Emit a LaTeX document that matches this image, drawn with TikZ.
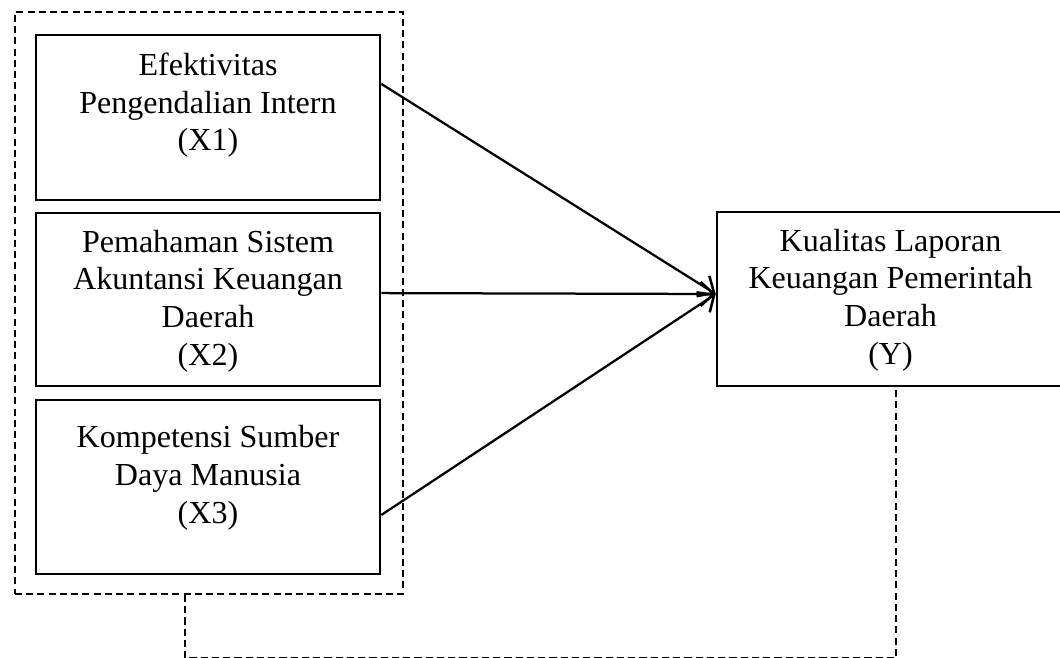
\documentclass[tikz,border=0pt]{standalone}
\usepackage{fontspec}
\setmainfont{Liberation Serif}
\usepackage{tikz}
\usetikzlibrary{arrows.meta, positioning}

\begin{document}
\begin{tikzpicture}[x=0.025cm, y=-0.025cm,
    every node/.style={font=\fontsize{22.8pt}{26.8pt}\selectfont},
    kotak/.style={draw, line width=1.8pt, inner sep=0pt},
    isi/.style={align=center, inner sep=0pt},
    putus/.style={line width=1.3pt, dash pattern=on 5pt off 3pt},
    panah/.style={line width=1.6pt, -{Straight Barb[length=3.3mm, width=6mm, line width=1.8pt]}}]
    \useasboundingbox (0,0) rectangle (1060,658);

    % --- Kotak putus-putus (variabel bebas) ---
    \node[draw, putus, minimum width=9.7cm, minimum height=14.55cm] (grup) at (209,303) {};

    % --- Variabel X1 ---
    \node[kotak, minimum width=8.6cm, minimum height=4.125cm] (x1) at (208,117.5) {};
    \node[isi, below=0.475cm of x1.north] (tx1) {Efektivitas\\Pengendalian Intern\\(X1)};

    % --- Variabel X2 ---
    \node[kotak, minimum width=8.6cm, minimum height=4.325cm] (x2) at (208,299.5) {};
    \node[isi, below=0.45cm of x2.north] (tx2) {Pemahaman Sistem\\Akuntansi Keuangan\\Daerah\\(X2)};

    % --- Variabel X3 ---
    \node[kotak, minimum width=8.6cm, minimum height=4.35cm] (x3) at (208,487) {};
    \node[isi, below=0.66cm of x3.north] (tx3) {Kompetensi Sumber\\Daya Manusia\\(X3)};

    % --- Variabel Y (sisi kanan terpotong) ---
    \node[kotak, minimum width=8.675cm, minimum height=4.35cm] (y) at (890.5,299) {};
    \node[isi, below=0.45cm of y.north] (ty) {Kualitas Laporan\\Keuangan Pemerintah\\Daerah\\(Y)};

    % Panah pengaruh ke Y
    \draw[panah] ([yshift=0.84cm]x1.east) -- ([yshift=0.125cm]y.west);
    \draw[panah] ([yshift=0.16cm]x2.east) -- ([yshift=0.125cm]y.west);
    \draw[panah] ([yshift=-0.7cm]x3.east) -- ([yshift=0.125cm]y.west);

    % Garis putus-putus (pengaruh simultan)
    \draw[putus] ([xshift=-0.6cm]grup.south) -- ++(0,63) -| ([xshift=0.14cm]y.south);

\end{tikzpicture}
\end{document}
